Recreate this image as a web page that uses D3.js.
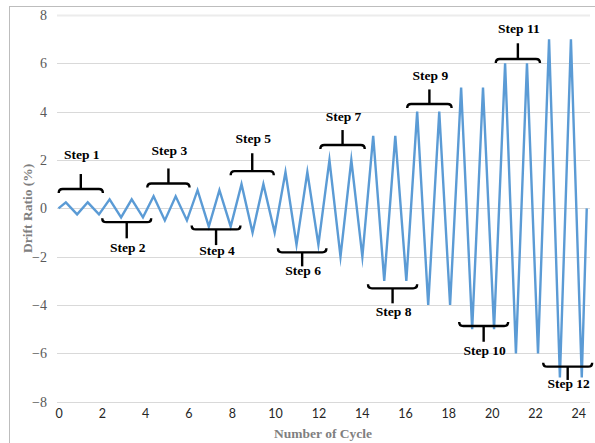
<!DOCTYPE html>
<html>
<head>
<meta charset="utf-8">
<script src="https://cdn.jsdelivr.net/npm/d3@7"></script>
<style>
  html, body { margin: 0; padding: 0; background: #fff; }
  svg { display: block; }
  .serif { font-family: "Liberation Serif", "Tinos", "DejaVu Serif", "Noto Serif", "Times New Roman", serif; }
  .sans { font-family: Lato, "Open Sans", "Liberation Sans", sans-serif; }
</style>
</head>
<body>
<svg id="chart" width="595" height="443"></svg>
<script>
// Loading protocol: two cycles per step, drift amplitude per step (%)
const stepAmplitude = [0.25, 0.375, 0.5, 0.75, 1, 1.5, 2, 3, 4, 5, 6, 7];

// Cycle position of each positive peak and each negative trough
const peakCycle = [0.34, 1.35, 2.36, 3.38, 4.39, 5.41, 6.42, 7.43, 8.45, 9.46, 10.48, 11.49,
                   12.51, 13.52, 14.53, 15.55, 16.56, 17.58, 18.59, 19.60, 20.62, 21.63, 22.65, 23.66];
const troughCycle = [0.86, 1.87, 2.89, 3.90, 4.91, 5.93, 6.94, 7.95, 8.96, 9.98, 10.99, 12.00,
                     13.02, 14.03, 15.04, 16.06, 17.07, 18.08, 19.10, 20.11, 21.12, 22.14, 23.15, 24.16];
const startCycle = 0;
const endCycle = 24.39;

// Axis ticks
const xTicks = [0, 2, 4, 6, 8, 10, 12, 14, 16, 18, 20, 22, 24];
const yTicks = [-8, -6, -4, -2, 0, 2, 4, 6, 8];

// Step annotations: bracket span (x1..x2), bar level, stem end, label level (data units)
const stepNames = ["Step 1", "Step 2", "Step 3", "Step 4", "Step 5", "Step 6",
                   "Step 7", "Step 8", "Step 9", "Step 10", "Step 11", "Step 12"];
const stepX1 = [0.01, 2.02, 4.10, 6.15, 7.95, 10.13, 12.09, 14.29, 16.10, 18.50, 20.19, 22.38];
const stepX2 = [2.05, 4.28, 6.05, 8.40, 9.94, 12.37, 14.14, 16.56, 18.15, 20.76, 22.23, 24.64];
const stepBar = [0.80, -0.57, 1.03, -0.87, 1.54, -1.82, 2.62, -3.31, 4.32, -4.87, 6.18, -6.55];
const stepStem = [1.42, -1.24, 1.65, -1.52, 2.28, -2.40, 3.24, -3.93, 4.92, -5.52, 6.83, -7.10];
const stepLabel = [2.23, -1.61, 2.41, -1.75, 2.92, -2.55, 3.79, -4.24, 5.49, -5.86, 7.45, -7.24];

// Build the drift history: start, then peak/trough pairs, then return to zero
const history = [{ c: startCycle, d: 0 }];
peakCycle.forEach((pc, i) => {
  const amp = stepAmplitude[Math.floor(i / 2)];
  history.push({ c: pc, d: amp });
  history.push({ c: troughCycle[i], d: -amp });
});
history.push({ c: endCycle, d: 0 });

const svg = d3.select("#chart");

// Chart area frame
svg.append("rect")
  .attr("x", 9.5).attr("y", 6.5)
  .attr("width", 600).attr("height", 450)
  .attr("fill", "#fff")
  .attr("stroke", "#bdbdbd").attr("stroke-width", 1);

const x = d3.scaleLinear().domain([0, 24]).range([58.5, 578.3]);
const y = d3.scaleLinear().domain([-8, 8]).range([401.7, 15]);
const plotLeft = 57, plotRight = 590;

// Horizontal gridlines
svg.append("g").selectAll("line")
  .data(yTicks).join("line")
  .attr("x1", plotLeft).attr("x2", plotRight)
  .attr("y1", d => Math.round(y(d)) + 0.5).attr("y2", d => Math.round(y(d)) + 0.5)
  .attr("stroke", d => d === 8 ? "#ececec" : "#d9d9d9")
  .attr("stroke-width", d => d === 8 ? 2 : 1);

// Y axis tick labels
const yAxis = d3.axisLeft(y).tickValues(yTicks).tickSize(0).tickPadding(0).tickFormat(d3.format("d"));
const gy = svg.append("g").attr("transform", "translate(47,0)").call(yAxis)
  .attr("font-family", null).attr("font-size", null);
gy.select(".domain").remove();
gy.selectAll("text")
  .attr("class", "serif")
  .style("font-size", "14px").attr("fill", "#595959")
  .attr("dy", "0.33em");

// X axis tick labels
const xAxis = d3.axisBottom(x).tickValues(xTicks).tickSize(0).tickPadding(0).tickFormat(d3.format("d"));
const gx = svg.append("g").attr("transform", "translate(0,412)").call(xAxis)
  .attr("font-family", null).attr("font-size", null);
gx.select(".domain").remove();
gx.selectAll("text")
  .attr("class", "sans")
  .style("font-size", "12.5px").attr("fill", "#262626")
  .attr("dy", "0.45em");

// Axis titles
svg.append("text")
  .attr("class", "serif")
  .attr("x", 323).attr("y", 437.5)
  .attr("text-anchor", "middle")
  .style("font-weight", "bold").style("font-size", "13.5px")
  .attr("fill", "#7f7f7f")
  .text("Number of Cycle");

svg.append("text")
  .attr("class", "serif")
  .attr("transform", `translate(31.5,${y(0)}) rotate(-90)`)
  .attr("text-anchor", "middle")
  .style("font-weight", "bold").style("font-size", "13.5px")
  .attr("fill", "#7f7f7f")
  .text("Drift Ratio (%)");

// Drift history line
const line = d3.line().x(d => x(d.c)).y(d => y(d.d));
svg.append("path")
  .datum(history)
  .attr("d", line)
  .attr("fill", "none")
  .attr("stroke", "#5b9bd5")
  .attr("stroke-width", 2.4)
  .attr("stroke-linejoin", "miter")
  .attr("stroke-miterlimit", 10);

// Step brackets and labels
const steps = stepNames.map((name, i) => ({
  name, x1: stepX1[i], x2: stepX2[i], bar: stepBar[i], stem: stepStem[i], label: stepLabel[i]
}));

const ann = svg.append("g");
steps.forEach(s => {
  const xa = x(s.x1), xb = x(s.x2), yb = y(s.bar);
  const up = s.stem > s.bar;            // stem above bar -> hooks point down
  const h = up ? 4 : -4;
  const xm = (xa + xb) / 2;
  ann.append("path")
    .attr("d", `M${xa},${yb + h} Q${xa},${yb} ${xa + 4},${yb} L${xb - 4},${yb} Q${xb},${yb} ${xb},${yb + h}`)
    .attr("fill", "none").attr("stroke", "#000").attr("stroke-width", 2.4);
  ann.append("line")
    .attr("x1", xm).attr("x2", xm)
    .attr("y1", yb).attr("y2", y(s.stem))
    .attr("stroke", "#000").attr("stroke-width", 2.4);
  ann.append("text")
    .attr("class", "serif")
    .attr("x", xm + 1).attr("y", y(s.label))
    .attr("dy", "0.35em")
    .attr("text-anchor", "middle")
    .style("font-weight", "bold").style("font-size", "13.5px")
    .attr("fill", "#000")
    .text(s.name);
});
</script>
</body>
</html>
